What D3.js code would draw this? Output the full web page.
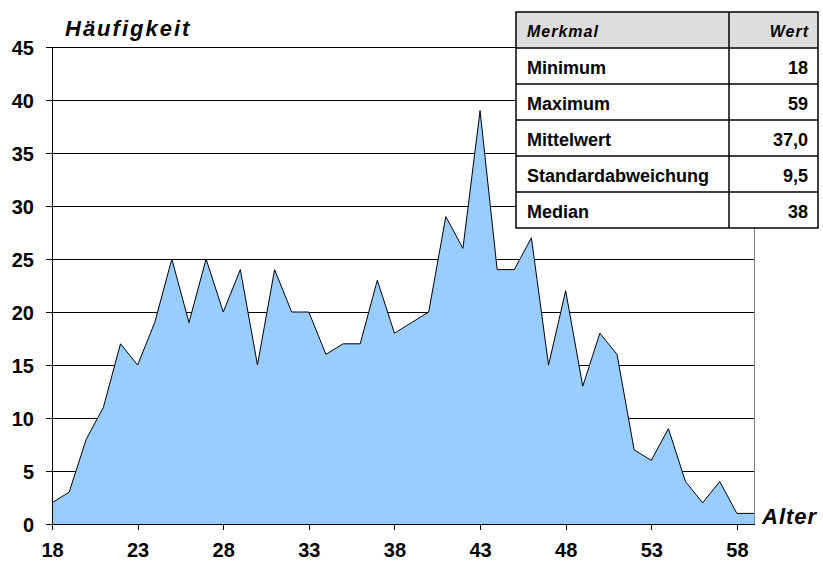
<!DOCTYPE html>
<html>
<head>
  <meta charset="UTF-8">
  <style>
    body {
      margin: 0;
      padding: 0;
      background-color: #ffffff;
      font-family: "Liberation Sans", Arial, sans-serif;
    }
    svg {
      display: block;
    }
    .tick text {
      font-size: 20px;
      font-weight: bold;
      fill: #000;
      font-family: "Liberation Sans", Arial, sans-serif;
    }
  </style>
</head>
<body>
  <svg></svg>
  <script src="https://d3js.org/d3.v7.min.js"></script>
  <script>
  let width = 823, height = 568;

  // Alter 18..59 und Häufigkeit
  const ages = d3.range(18, 60);
  const counts = [2, 3, 8, 11, 17, 15, 19, 25, 19, 25,
                  20, 24, 15, 24, 20, 20, 16, 17, 17, 23,
                  18, 19, 20, 29, 26, 39, 24, 24, 27, 15,
                  22, 13, 18, 16, 7, 6, 9, 4, 2, 4,
                  1, 1];
  const xTicks = [18, 23, 28, 33, 38, 43, 48, 53, 58];
  const yTicks = [0, 5, 10, 15, 20, 25, 30, 35, 40, 45];

  const statNames = ["Minimum", "Maximum", "Mittelwert", "Standardabweichung", "Median"];
  const statValues = ["18", "59", "37,0", "9,5", "38"];

  const data = ages.map((a, i) => ({age: a, n: counts[i]}));

  let svg = d3.select("svg")
      .attr("width", width)
      .attr("height", height);

  const plotLeft = 52, plotRight = 754, plotTop = 47, plotBottom = 524;

  const x = d3.scaleLinear().domain([18, 59]).range([plotLeft, plotRight]);
  const y = d3.scaleLinear().domain([0, 45]).range([plotBottom, plotTop]);

  // Gitterlinien
  svg.append("g")
      .selectAll("line")
      .data(yTicks.slice(1))
      .enter()
      .append("line")
      .attr("x1", plotLeft)
      .attr("x2", plotRight)
      .attr("y1", d => y(d))
      .attr("y2", d => y(d))
      .attr("stroke", "#000")
      .attr("stroke-width", 1)
      .attr("shape-rendering", "crispEdges");

  // rechter Rand
  svg.append("line")
      .attr("x1", plotRight).attr("x2", plotRight)
      .attr("y1", plotTop).attr("y2", plotBottom)
      .attr("stroke", "#808080")
      .attr("shape-rendering", "crispEdges");

  // Fläche
  const area = d3.area()
      .x(d => x(d.age))
      .y0(y(0))
      .y1(d => y(d.n));

  const line = d3.line()
      .x(d => x(d.age))
      .y(d => y(d.n));

  svg.append("path")
      .datum(data)
      .attr("d", area)
      .attr("fill", "#99ccff");

  svg.append("path")
      .datum(data)
      .attr("d", line)
      .attr("fill", "none")
      .attr("stroke", "#000")
      .attr("stroke-width", 1);

  // Achsen
  const yAxis = svg.append("g")
      .attr("transform", `translate(${plotLeft},0)`)
      .call(d3.axisLeft(y).tickValues(yTicks).tickSize(6).tickPadding(12));
  yAxis.select(".domain").attr("stroke", "#000").attr("shape-rendering", "crispEdges");
  yAxis.selectAll(".tick line").attr("shape-rendering", "crispEdges");
  yAxis.selectAll(".tick text").attr("dy", "0.36em");

  const xAxis = svg.append("g")
      .attr("transform", `translate(0,${plotBottom})`)
      .call(d3.axisBottom(x).tickValues(xTicks).tickSize(6).tickPadding(13).tickSizeOuter(0));
  xAxis.select(".domain").attr("stroke", "#000").attr("shape-rendering", "crispEdges");
  xAxis.selectAll(".tick line").attr("shape-rendering", "crispEdges");

  // Achsentitel
  svg.append("text")
      .attr("x", 65)
      .attr("y", 36)
      .attr("font-size", 22)
      .attr("font-weight", "bold")
      .attr("font-style", "italic")
      .attr("letter-spacing", 2)
      .text("Häufigkeit");

  svg.append("text")
      .attr("x", 762)
      .attr("y", 524)
      .attr("font-size", 22)
      .attr("font-weight", "bold")
      .attr("font-style", "italic")
      .attr("letter-spacing", 1)
      .text("Alter");

  // Tabelle
  const tx = 516, tw = 302, colX = 729, rowH = 36, ty = 12;
  const table = svg.append("g");

  table.append("rect")
      .attr("x", tx).attr("y", ty)
      .attr("width", tw).attr("height", rowH * 6)
      .attr("fill", "#ffffff")
      .attr("stroke", "none");

  table.append("rect")
      .attr("x", tx).attr("y", ty)
      .attr("width", tw).attr("height", rowH)
      .attr("fill", "#dddddd");

  for (let i = 1; i < 6; i++) {
    table.append("line")
        .attr("x1", tx).attr("x2", tx + tw)
        .attr("y1", ty + i * rowH).attr("y2", ty + i * rowH)
        .attr("stroke", "#000").attr("stroke-width", 1.5);
  }
  table.append("line")
      .attr("x1", colX).attr("x2", colX)
      .attr("y1", ty).attr("y2", ty + rowH * 6)
      .attr("stroke", "#000").attr("stroke-width", 1.5);
  table.append("rect")
      .attr("x", tx).attr("y", ty)
      .attr("width", tw).attr("height", rowH * 6)
      .attr("fill", "none")
      .attr("stroke", "#000").attr("stroke-width", 1.5);

  table.append("text")
      .attr("x", tx + 11).attr("y", ty + 25)
      .attr("font-size", 16).attr("font-weight", "bold").attr("font-style", "italic")
      .attr("letter-spacing", 1)
      .text("Merkmal");
  table.append("text")
      .attr("x", tx + tw - 9).attr("y", ty + 25)
      .attr("text-anchor", "end")
      .attr("font-size", 16).attr("font-weight", "bold").attr("font-style", "italic")
      .attr("letter-spacing", 1)
      .text("Wert");

  table.selectAll("text.name")
      .data(statNames)
      .enter()
      .append("text")
      .attr("class", "name")
      .attr("x", tx + 11)
      .attr("y", (d, i) => ty + (i + 1) * rowH + 26)
      .attr("font-size", 18).attr("font-weight", "bold")
      .text(d => d);

  table.selectAll("text.val")
      .data(statValues)
      .enter()
      .append("text")
      .attr("class", "val")
      .attr("x", tx + tw - 10)
      .attr("y", (d, i) => ty + (i + 1) * rowH + 26)
      .attr("text-anchor", "end")
      .attr("font-size", 18).attr("font-weight", "bold")
      .text(d => d);
  </script>
</body>
</html>
